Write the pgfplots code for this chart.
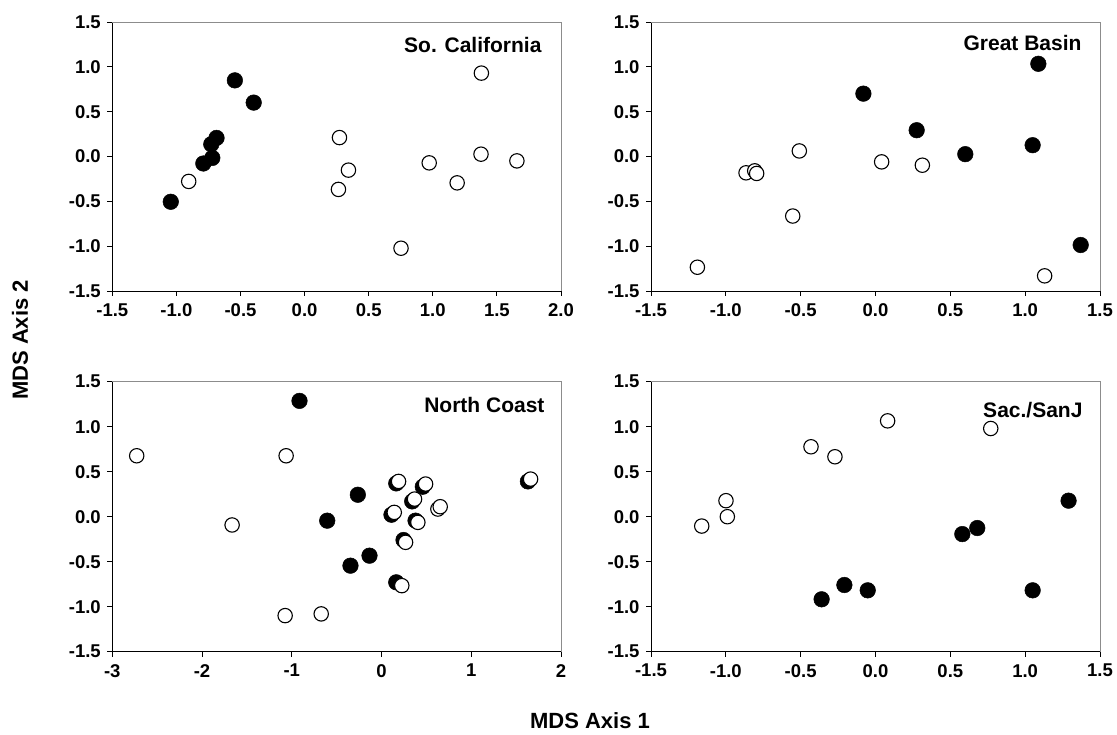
\documentclass[border=0pt]{standalone}
\usepackage{fontspec}
\setmainfont{Liberation Sans}
\usepackage{pgfplots}
\pgfplotsset{compat=1.18}
\usepackage{pgfplotstable}

\pgfplotsset{
  panel/.style={
    scale only axis, anchor=south west,
    axis x line*=bottom, axis y line*=left,
    axis line style={black, line width=0.9pt},
    tick align=outside, major tick length=5pt,
    tick style={black, line width=0.9pt},
    ymin=-1.5, ymax=1.5, ytick={-1.5,-1,-0.5,0,0.5,1,1.5},
    /pgf/number format/assume math mode=true,
    ticklabel style={font=\fontsize{18.5}{20}\selectfont\bfseries},
    yticklabel style={/pgf/number format/fixed, /pgf/number format/fixed zerofill, /pgf/number format/precision=1, xshift=-3pt},
    xticklabel style={yshift=-4pt},
    clip=false,
  },
  dec x/.style={xticklabel style={/pgf/number format/fixed, /pgf/number format/fixed zerofill, /pgf/number format/precision=1}},
  filledpt/.style={only marks, mark=*, mark size=7.8pt, mark options={fill=black, draw=black, line width=0.5pt}},
  openpt/.style={only marks, mark=*, mark size=7.2pt, mark options={fill=white, draw=black, line width=1.1pt}},
}
\tikzset{ptitle/.style={anchor=base east, font=\fontsize{21}{24}\selectfont\bfseries}}
\newcommand{\grayedges}{\draw[black!45, line width=0.9pt] (rel axis cs:0,1) -- (rel axis cs:1,1) -- (rel axis cs:1,0);}

\begin{document}
\begin{tikzpicture}
\path[use as bounding box] (0,0) rectangle (1117pt,734pt);

% So. California
\begin{axis}[panel, dec x, at={(112.3pt,443pt)}, width=448.7pt, height=269pt,
  xmin=-1.5, xmax=2.0, xtick={-1.5,-1,-0.5,0,0.5,1,1.5,2}]
\grayedges
\addplot[filledpt] table {
x y
-0.544 0.849
-0.397 0.601
-0.687 0.207
-0.728 0.137
-0.720 -0.016
-0.790 -0.078
-1.044 -0.505
};
\addplot[openpt] table {
x y
-0.904 -0.278
0.272 0.211
0.342 -0.152
0.264 -0.367
1.379 0.930
0.972 -0.071
1.376 0.026
1.656 -0.049
1.190 -0.294
0.752 -1.023
};
\node[ptitle, xshift=-16pt, yshift=-31pt] at (rel axis cs:1,1) {So. California};
\end{axis}

% Great Basin
\begin{axis}[panel, dec x, at={(651pt,443pt)}, width=449pt, height=269pt,
  xmin=-1.5, xmax=1.5, xtick={-1.5,-1,-0.5,0,0.5,1,1.5}]
\grayedges
\addplot[filledpt] table {
x y
-0.081 0.701
0.275 0.293
0.600 0.026
1.050 0.126
1.088 1.034
1.371 -0.987
};
\addplot[openpt] table {
x y
-0.509 0.062
-0.865 -0.182
-0.807 -0.160
-0.794 -0.189
-0.553 -0.664
-1.190 -1.235
0.041 -0.060
0.313 -0.097
1.130 -1.331
};
\node[ptitle, xshift=-15pt, yshift=-29pt] at (rel axis cs:1,1) {Great Basin};
\end{axis}

% North Coast
\begin{axis}[panel, at={(112.3pt,82.3pt)}, width=448.7pt, height=270pt,
  xmin=-3, xmax=2, xtick={-3,-2,-1,0,1,2}]
\grayedges
\addplot[filledpt] table {
x y
-0.914 1.287
-0.264 0.244
-0.605 -0.044
-0.134 -0.433
-0.346 -0.544
0.164 0.370
0.460 0.333
0.342 0.170
0.111 0.022
0.379 -0.044
0.245 -0.259
0.164 -0.729
1.631 0.392
};
\addplot[openpt] table {
x y
-2.728 0.677
-1.063 0.677
-1.665 -0.092
-1.074 -1.099
-0.672 -1.080
0.190 0.392
0.491 0.363
0.368 0.196
0.628 0.085
0.654 0.111
0.142 0.048
0.405 -0.063
0.268 -0.285
0.226 -0.766
1.661 0.418
};
\node[ptitle, xshift=-13pt, yshift=-31pt] at (rel axis cs:1,1) {North Coast};
\end{axis}

% Sac./SanJ
\begin{axis}[panel, dec x, at={(651pt,82.3pt)}, width=449pt, height=270pt,
  xmin=-1.5, xmax=1.5, xtick={-1.5,-1,-0.5,0,0.5,1,1.5}]
\grayedges
\addplot[filledpt] table {
x y
1.290 0.178
0.680 -0.126
0.580 -0.193
-0.208 -0.759
-0.360 -0.918
-0.052 -0.818
1.050 -0.818
};
\addplot[openpt] table {
x y
0.081 1.065
0.770 0.980
-0.431 0.777
-0.271 0.666
-0.999 0.178
-0.990 0.000
-1.161 -0.104
};
\node[ptitle, xshift=-14pt, yshift=-36pt] at (rel axis cs:1,1) {Sac./SanJ};
\end{axis}

\node[rotate=90, font=\fontsize{22}{24}\selectfont\bfseries] at (20pt,394pt) {MDS Axis 2};
\node[font=\fontsize{22}{24}\selectfont\bfseries, inner sep=1pt] at (590pt,13pt) {MDS Axis 1};
\end{tikzpicture}
\end{document}
